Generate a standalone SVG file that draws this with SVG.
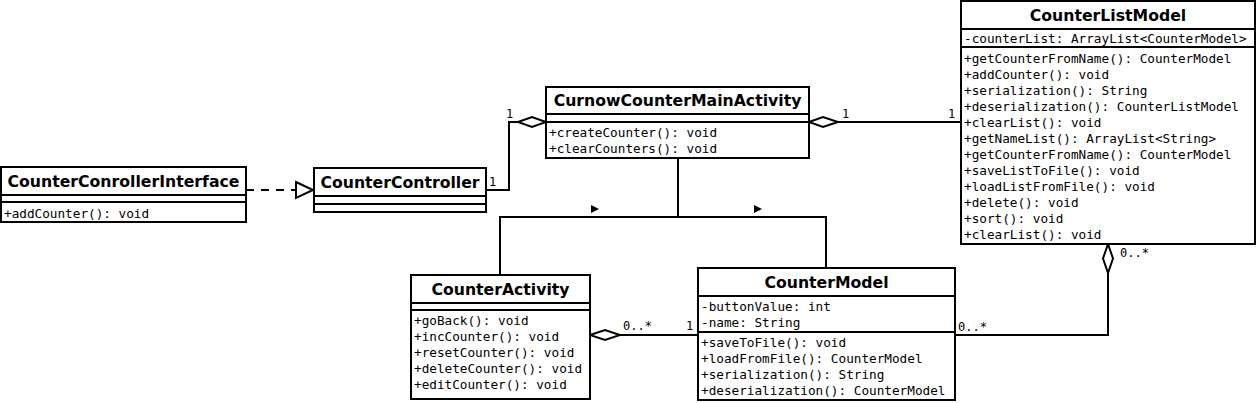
<svg xmlns="http://www.w3.org/2000/svg" width="1258" height="403" viewBox="0 0 1258 403">
<style>
rect.box{fill:#fff;stroke:#000;stroke-width:2}
line.sep{stroke:#000;stroke-width:2}
text.t{font-family:"DejaVu Sans",sans-serif;font-weight:bold;font-size:15.7px;text-anchor:middle;fill:#000}
text.m{font-family:"DejaVu Sans Mono",monospace;font-size:12.7px;fill:#000}
text.l{font-family:"DejaVu Sans Mono",monospace;font-size:12px;fill:#000}
.c{fill:none;stroke:#000;stroke-width:2}
</style>
<rect width="1258" height="403" fill="#fff"/>
<g id="connectors">
  <path class="c" d="M246,190 H296" stroke-dasharray="8,7"/>
  <polygon points="296,182 313,190 296,198" fill="#fff" stroke="#000" stroke-width="2"/>
  <path class="c" d="M486,190 H509 V122 H518"/>
  <polygon points="518,122 532,117 546,122 532,127" fill="#fff" stroke="#000" stroke-width="2"/>
  <text class="l" x="489" y="186">1</text>
  <text class="l" x="506" y="118">1</text>
  <path class="c" d="M838,122 H961"/>
  <polygon points="809,122 823,117 838,122 823,127" fill="#fff" stroke="#000" stroke-width="2"/>
  <text class="l" x="842" y="118">1</text>
  <text class="l" x="948" y="118">1</text>
  <path class="c" d="M678,158 V217 M500,275 V217 H826 V268"/>
  <polygon points="591,205 599,209 591,213" fill="#000"/>
  <polygon points="754,205 762,209 754,213" fill="#000"/>
  <path class="c" d="M620,335 H698"/>
  <polygon points="590,335 605,330 620,335 605,340" fill="#fff" stroke="#000" stroke-width="2"/>
  <text class="l" x="623" y="330">0..*</text>
  <text class="l" x="686" y="330">1</text>
  <path class="c" d="M1108,273 V335 H955"/>
  <polygon points="1108,244 1113,258.5 1108,273 1103,258.5" fill="#fff" stroke="#000" stroke-width="2"/>
  <text class="l" x="1120" y="257">0..*</text>
  <text class="l" x="958" y="331">0..*</text>
</g>
<g id="CounterConrollerInterface">
  <rect class="box" x="1" y="167" width="245" height="55"/>
  <line class="sep" x1="1" y1="195" x2="246" y2="195"/>
  <line class="sep" x1="1" y1="202" x2="246" y2="202"/>
  <text class="t" x="123.5" y="187">CounterConrollerInterface</text>
  <text class="m" x="4" y="217.5">+addCounter(): void</text>
</g>
<g id="CounterController">
  <rect class="box" x="314" y="168" width="172" height="44"/>
  <line class="sep" x1="314" y1="196" x2="486" y2="196"/>
  <line class="sep" x1="314" y1="204" x2="486" y2="204"/>
  <text class="t" x="400" y="188">CounterController</text>
</g>
<g id="CurnowCounterMainActivity">
  <rect class="box" x="546" y="87" width="263" height="71"/>
  <line class="sep" x1="546" y1="114" x2="809" y2="114"/>
  <line class="sep" x1="546" y1="122" x2="809" y2="122"/>
  <text class="t" x="677.5" y="106">CurnowCounterMainActivity</text>
  <text class="m" x="549" y="136.5">+createCounter(): void</text>
  <text class="m" x="549" y="152.5">+clearCounters(): void</text>
</g>
<g id="CounterListModel">
  <rect class="box" x="961" y="1" width="294" height="243"/>
  <line class="sep" x1="961" y1="29" x2="1255" y2="29"/>
  <line class="sep" x1="961" y1="47" x2="1255" y2="47"/>
  <text class="t" x="1108" y="21">CounterListModel</text>
  <text class="m" x="964" y="42.5">-counterList: ArrayList&lt;CounterModel&gt;</text>
  <text class="m" x="964" y="62.5">+getCounterFromName(): CounterModel</text>
  <text class="m" x="964" y="78.5">+addCounter(): void</text>
  <text class="m" x="964" y="94.5">+serialization(): String</text>
  <text class="m" x="964" y="110.5">+deserialization(): CounterListModel</text>
  <text class="m" x="964" y="126.5">+clearList(): void</text>
  <text class="m" x="964" y="142.5">+getNameList(): ArrayList&lt;String&gt;</text>
  <text class="m" x="964" y="158.5">+getCounterFromName(): CounterModel</text>
  <text class="m" x="964" y="174.5">+saveListToFile(): void</text>
  <text class="m" x="964" y="190.5">+loadListFromFile(): void</text>
  <text class="m" x="964" y="206.5">+delete(): void</text>
  <text class="m" x="964" y="222.5">+sort(): void</text>
  <text class="m" x="964" y="238.5">+clearList(): void</text>
</g>
<g id="CounterActivity">
  <rect class="box" x="411" y="275" width="179" height="124"/>
  <line class="sep" x1="411" y1="303" x2="590" y2="303"/>
  <line class="sep" x1="411" y1="310" x2="590" y2="310"/>
  <text class="t" x="500.5" y="295">CounterActivity</text>
  <text class="m" x="414" y="324.5">+goBack(): void</text>
  <text class="m" x="414" y="340.5">+incCounter(): void</text>
  <text class="m" x="414" y="356.5">+resetCounter(): void</text>
  <text class="m" x="414" y="372.5">+deleteCounter(): void</text>
  <text class="m" x="414" y="388.5">+editCounter(): void</text>
</g>
<g id="CounterModel">
  <rect class="box" x="698" y="268" width="257" height="132"/>
  <line class="sep" x1="698" y1="296" x2="955" y2="296"/>
  <line class="sep" x1="698" y1="332" x2="955" y2="332"/>
  <text class="t" x="826.5" y="288">CounterModel</text>
  <text class="m" x="701" y="310.5">-buttonValue: int</text>
  <text class="m" x="701" y="326.5">-name: String</text>
  <text class="m" x="701" y="346.5">+saveToFile(): void</text>
  <text class="m" x="701" y="362.5">+loadFromFile(): CounterModel</text>
  <text class="m" x="701" y="378.5">+serialization(): String</text>
  <text class="m" x="701" y="394.5">+deserialization(): CounterModel</text>
</g>
</svg>
